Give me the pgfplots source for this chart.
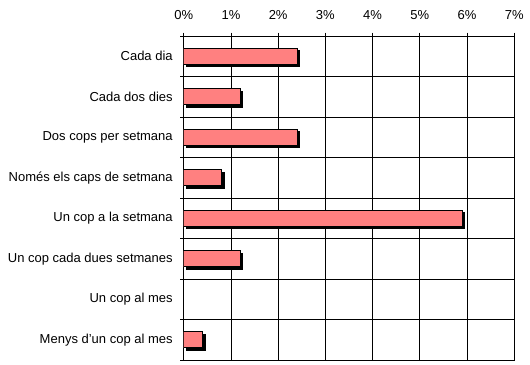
\documentclass[border=0pt]{standalone}
\usepackage{pgfplots}
\pgfplotsset{compat=1.18}
\usepackage{fontspec}
\setmainfont{Liberation Sans}
\usetikzlibrary{shadows}
\definecolor{barpink}{HTML}{FF8080}
\begin{document}
\begin{tikzpicture}
\useasboundingbox (-183.7bp,-5bp) rectangle (346.3bp,360bp);
\begin{axis}[
  at={(0,0)}, anchor=south west,
  scale only axis, width=330.6bp, height=324bp,
  xmin=0, xmax=7, ymin=-0.5, ymax=7.5, y dir=reverse,
  axis line style={black, line width=0.8pt},
  xtick={0,...,7},
  xticklabel={\pgfmathprintnumber{\tick}\%},
  xtick pos=upper, xticklabel pos=upper,
  xmajorgrids, ymajorgrids,
  grid style={black, line width=0.8pt},
  tick style={black, line width=0.8pt},
  major tick length=3.5bp,
  tick align=outside,
  ytick={-0.5,0.5,...,7.5},
  yticklabels={},
  ytick pos=left,
  extra y ticks={0,...,7},
  extra y tick labels={Cada dia, Cada dos dies, Dos cops per setmana, Només els caps de setmana, Un cop a la setmana, Un cop cada dues setmanes, Un cop al mes, Menys d'un cop al mes},
  extra y tick style={grid=none, tick style={draw=none}},
  tick label style={font=\fontsize{13bp}{15bp}\selectfont},
  /pgf/number format/assume math mode=true,
  xticklabel style={yshift=9.5bp},
  yticklabel style={xshift=-4bp},
]
\addplot[xbar, bar width=16bp, fill=barpink, draw=black, line width=0.8pt,
  drop shadow={shadow xshift=2.5bp, shadow yshift=-2.5bp, fill=black, opacity=1}]
  coordinates {(2.4,0) (1.2,1) (2.4,2) (0.8,3) (5.9,4) (1.2,5) (0.4,7)};
\end{axis}
\end{tikzpicture}
\end{document}
